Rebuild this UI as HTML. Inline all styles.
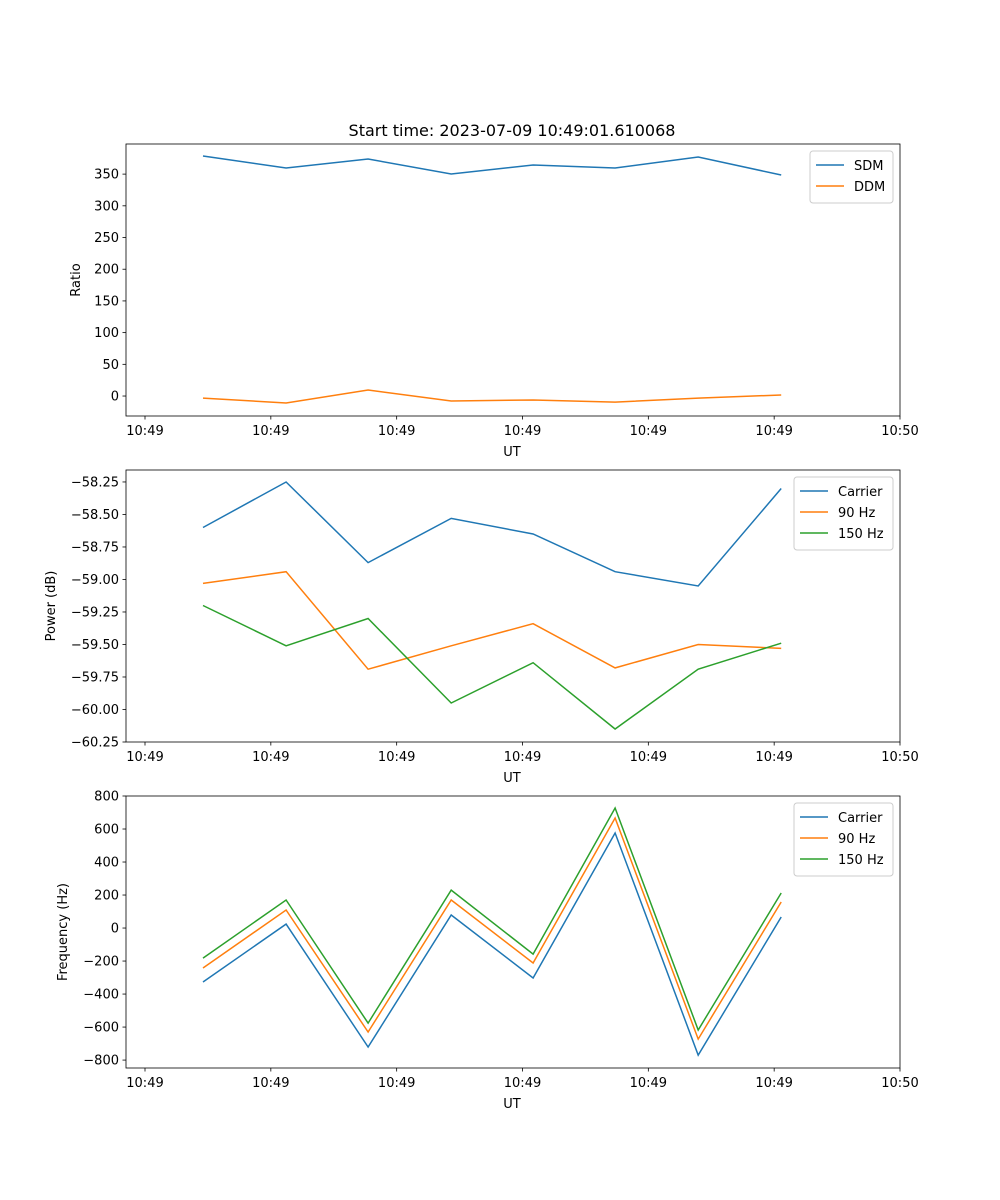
<!DOCTYPE html>
<html><head><meta charset="utf-8"><style>
body{margin:0;background:#fff}
svg{display:block;font-family:"DejaVu Sans","Liberation Sans",sans-serif}
</style></head><body>
<svg id="fig" width="1000" height="1200" xmlns="http://www.w3.org/2000/svg">
<rect width="1000" height="1200" fill="#fff"/>
<text x="512" y="136" font-size="16" text-anchor="middle">Start time: 2023-07-09 10:49:01.610068</text>
</svg>
<script>
// time offsets (s) from 10:49:00
const times=[4.61,11.21,17.73,24.33,30.84,37.36,43.96,50.56];
const xTickVals=[0,10,20,30,40,50,60];
const xTickLabels=["10:49","10:49","10:49","10:49","10:49","10:49","10:50"];
const sdm=[378.5,359.6,373.8,350.2,364.4,359.6,377,348.6];
const ddm=[-3.2,-11,9.5,-7.9,-6.3,-9.5,-3.2,1.6];
const pwrCarrier=[-58.60,-58.25,-58.87,-58.53,-58.65,-58.94,-59.05,-58.30];
const pwr90=[-59.03,-58.94,-59.69,-59.51,-59.34,-59.68,-59.50,-59.53];
const pwr150=[-59.20,-59.51,-59.30,-59.95,-59.64,-60.15,-59.69,-59.49];
const frqCarrier=[-327,24,-721,79,-303,576,-770,67];
const frq90=[-242,109,-630,170,-212,667,-673,158];
const frq150=[-182,170,-576,230,-158,727,-618,212];
const ratioTicks=[0,50,100,150,200,250,300,350];
const pwrTicks=[-60.25,-60.00,-59.75,-59.50,-59.25,-59.00,-58.75,-58.50,-58.25];
const frqTicks=[-800,-600,-400,-200,0,200,400,600,800];

const NS="http://www.w3.org/2000/svg";
const svg=document.getElementById('fig');
const C=["#1f77b4","#ff7f0e","#2ca02c"];
const L=126,R=900;
const xScale=t=>L+(t-(-1.51))/(61.51)*(R-L);
function mk(tag,attrs,parent){const e=document.createElementNS(NS,tag);for(const k in attrs)e.setAttribute(k,attrs[k]);(parent||svg).appendChild(e);return e;}
function fmt(v,d){const s=v.toFixed(d);return v<0?"\u2212"+s.slice(1):s;}
function panel(name,top,bot,ymin,ymax,ticks,dec,ylabel,ylx,series,names,legW){
  const g=mk('g',{});
  
  
  const ys=v=>bot-(v-ymin)/(ymax-ymin)*(bot-top);
  ticks.forEach(v=>{const y=ys(v);
    const l=mk('line',{x1:L-3.5,x2:L,y1:y,y2:y,stroke:'#000','stroke-width':0.8},g);
    
    const t=mk('text',{x:L-7,y:y+4.5,'font-size':13,'text-anchor':'end'},g);t.textContent=fmt(v,dec);
    });
  xTickVals.forEach((v,i)=>{const x=xScale(v);
    const l=mk('line',{x1:x,x2:x,y1:bot,y2:bot+3.5,stroke:'#000','stroke-width':0.8},g);
    
    const t=mk('text',{x:x,y:bot+19,'font-size':13,'text-anchor':'middle'},g);t.textContent=xTickLabels[i];
    });
  const xt=mk('text',{x:512,y:bot+40,'font-size':13,'text-anchor':'middle'},g);xt.textContent='UT';
  
  const yt=mk('text',{x:ylx,y:(top+bot)/2,'font-size':13,'text-anchor':'middle',transform:`rotate(-90 ${ylx} ${(top+bot)/2})`},g);yt.textContent=ylabel;
  
  series.forEach((s,i)=>{
    const p=mk('polyline',{points:s.map((v,j)=>xScale(times[j]).toFixed(1)+','+ys(v).toFixed(1)).join(' '),fill:'none',stroke:C[i],'stroke-width':1.5},g);
    
    
  });
  const fr=mk('rect',{x:L,y:top,width:R-L,height:bot-top,fill:'none',stroke:'#000','stroke-width':0.8},g);
  
  const lx=R-7-legW,ly=top+7,lh=10+names.length*21;
  const lg=mk('g',{},g);
  
  mk('rect',{x:lx,y:ly,width:legW,height:lh,rx:3,fill:'#fff',stroke:'#ccc','stroke-width':1},lg);
  names.forEach((n,i)=>{const y=ly+14+i*21;
    const e=mk('g',{},lg);
    
    mk('line',{x1:lx+6,x2:lx+34,y1:y,y2:y,stroke:C[i],'stroke-width':1.5},e);
    const t=mk('text',{x:lx+44,y:y+5,'font-size':13},e);t.textContent=n;});
}
panel('ratio-panel',144,416,-31.5,397.5,ratioTicks,0,'Ratio',80,[sdm,ddm],['SDM','DDM'],83);
panel('power-panel',470,742,-60.25,-58.158,pwrTicks,2,'Power (dB)',55,[pwrCarrier,pwr90,pwr150],['Carrier','90 Hz','150 Hz'],99);
panel('frequency-panel',796,1068,-848,800,frqTicks,0,'Frequency (Hz)',67,[frqCarrier,frq90,frq150],['Carrier','90 Hz','150 Hz'],99);
</script>
</body></html>
